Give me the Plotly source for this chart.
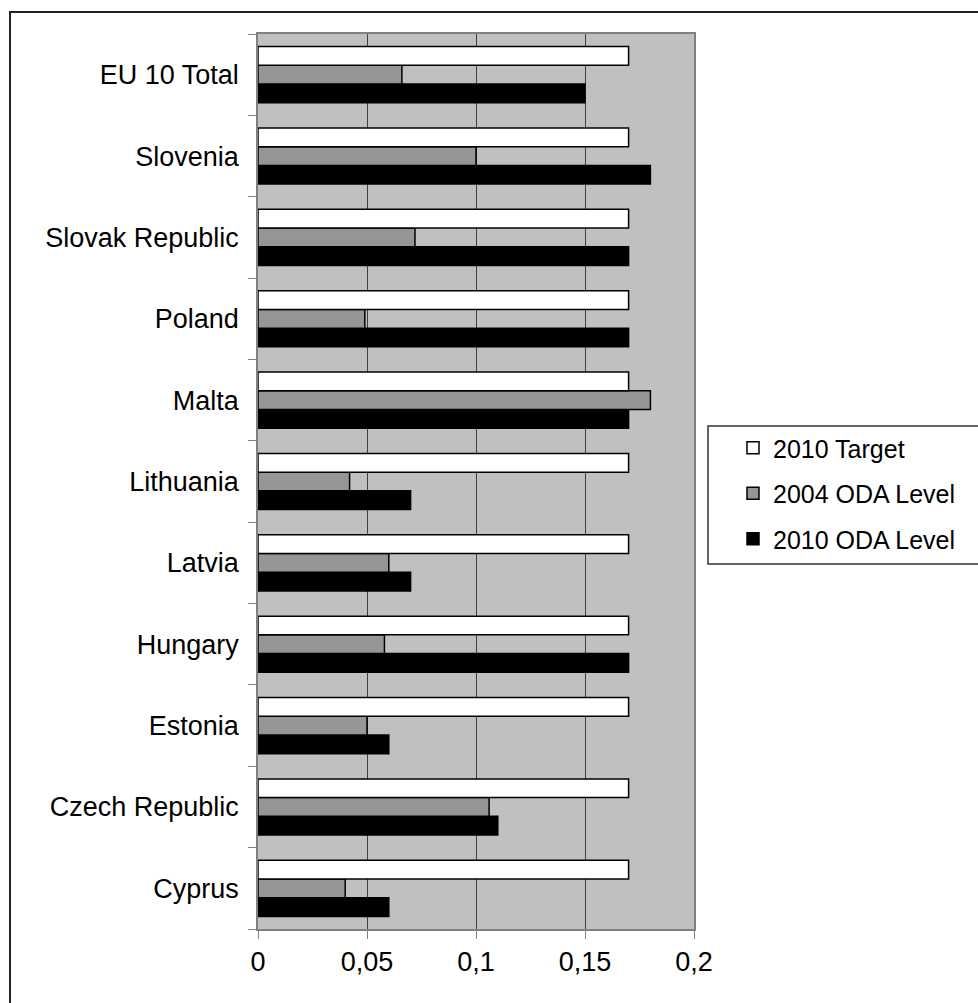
import plotly.graph_objects as go

# Countries listed bottom-to-top on the category axis
countries = ["Cyprus", "Czech Republic", "Estonia", "Hungary", "Latvia",
             "Lithuania", "Malta", "Poland", "Slovak Republic", "Slovenia",
             "EU 10 Total"]

# ODA as a share of GNI (%)
target_2010 = [0.17, 0.17, 0.17, 0.17, 0.17, 0.17, 0.17, 0.17, 0.17, 0.17, 0.17]
oda_2004 = [0.04, 0.106, 0.05, 0.058, 0.06, 0.042, 0.18, 0.049, 0.072, 0.10, 0.066]
oda_2010 = [0.06, 0.11, 0.06, 0.17, 0.07, 0.07, 0.17, 0.17, 0.17, 0.18, 0.15]

x_tick_vals = [0, 0.05, 0.1, 0.15, 0.2]
x_tick_text = ["0", "0,05", "0,1", "0,15", "0,2"]

FONT = "Liberation Sans, Arial, sans-serif"

fig = go.Figure()
# Horizontal groups stack upward in trace order, so the bottom bar goes first
fig.add_trace(go.Bar(y=countries, x=oda_2010, name="2010 ODA Level", orientation="h",
                     marker=dict(color="#000000", line=dict(color="#000000", width=1.5)),
                     legendgroup="c", legendrank=3))
fig.add_trace(go.Bar(y=countries, x=oda_2004, name="2004 ODA Level", orientation="h",
                     marker=dict(color="#969696", line=dict(color="#000000", width=1.5)),
                     legendgroup="b", legendrank=2))
fig.add_trace(go.Bar(y=countries, x=target_2010, name="2010 Target", orientation="h",
                     marker=dict(color="#FFFFFF", line=dict(color="#000000", width=1.5)),
                     legendgroup="a", legendrank=1))

W, H = 978, 1003
L, R, T, B = 258, 284, 34, 74
pw, ph = W - L - R, H - T - B


def px_x(p):
    return (p - L) / pw


def px_y(p):
    return (H - B - p) / ph


fig.update_layout(
    width=W, height=H,
    margin=dict(l=L, r=R, t=T, b=B),
    paper_bgcolor="#FFFFFF",
    plot_bgcolor="#C0C0C0",
    barmode="group",
    bargap=0.31,
    bargroupgap=0,
    font=dict(family=FONT, size=27, color="#000000"),
    showlegend=True,
    legend=dict(
        x=px_x(733), y=px_y(425), xanchor="left", yanchor="top",
        traceorder="grouped", tracegroupgap=10,
        font=dict(family=FONT, size=25, color="#000000"),
        bgcolor="rgba(0,0,0,0)", borderwidth=0,
        itemclick=False, itemdoubleclick=False,
    ),
    xaxis=dict(
        range=[0, 0.2], tickvals=x_tick_vals, ticktext=x_tick_text,
        showgrid=True, gridcolor="#404040", gridwidth=1,
        showline=True, linecolor="#808080", linewidth=1.5, mirror=True,
        ticks="outside", ticklen=8, tickcolor="#808080", tickwidth=1,
        zeroline=False, fixedrange=True,
    ),
    yaxis=dict(
        type="category", categoryorder="array", categoryarray=countries,
        showgrid=False,
        showline=True, linecolor="#808080", linewidth=1.5, mirror=True,
        ticks="outside", ticklen=8, tickcolor="#808080", tickwidth=1,
        tickson="boundaries", ticklabelstandoff=12,
        zeroline=False, fixedrange=True,
    ),
    shapes=[
        # outer chart frame
        dict(type="rect", xref="paper", yref="paper",
             x0=px_x(10), x1=px_x(995), y0=px_y(1015), y1=px_y(12),
             line=dict(color="#222222", width=2), fillcolor="rgba(0,0,0,0)", layer="below"),
        # legend frame
        dict(type="rect", xref="paper", yref="paper",
             x0=px_x(708), x1=px_x(995), y0=px_y(564), y1=px_y(426),
             line=dict(color="#333333", width=1.5), fillcolor="#FFFFFF", layer="below"),
    ],
)

fig.write_html("out.html")
